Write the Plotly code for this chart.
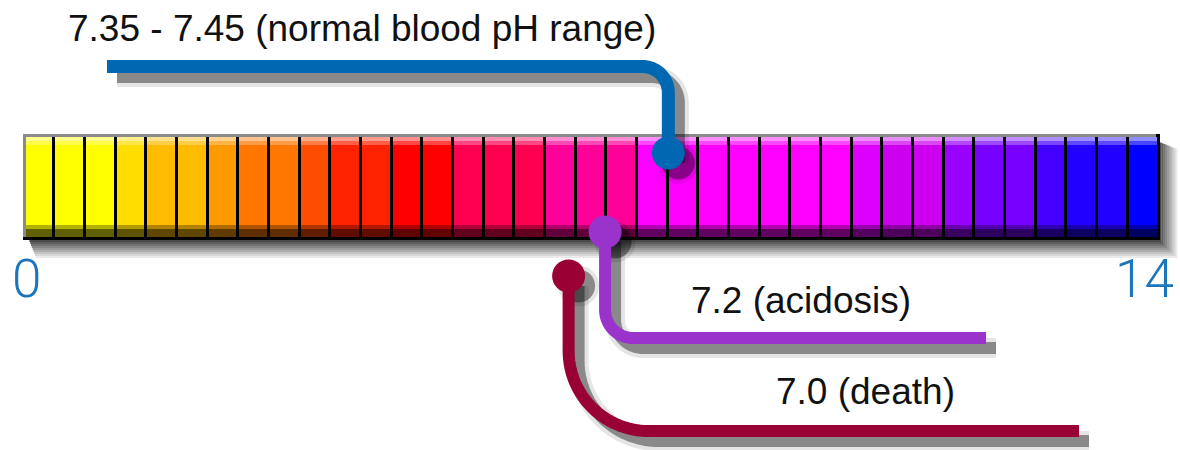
import numpy as np
import plotly.graph_objects as go

# ---------------- data ----------------
PH_MIN, PH_MAX = 0, 14
segment_colors = [
    "#FFFF00", "#FFFF00", "#FFFF00", "#FFDD00", "#FFBB00", "#FFBB00",
    "#FF9900", "#FF7700", "#FF7700", "#FF4D00", "#FF2200", "#FF2200",
    "#FF0000", "#FF0000", "#FF0050", "#FF0050", "#FF0050", "#FF0099",
    "#FF0099", "#FF0099", "#FF00FF", "#FF00FF", "#FF00FF", "#FF00FF",
    "#FF00FF", "#FF00FF", "#FF00FF", "#DD00FF", "#CC00EE", "#CC00EE",
    "#9900FF", "#7700FF", "#7700FF", "#4400FF", "#2200FF", "#2200FF",
    "#0000FF",
]
scale_tick_values = [0, 14]
scale_tick_labels = ["0", "14"]
callout_labels = ["7.35 - 7.45 (normal blood pH range)", "7.2 (acidosis)", "7.0 (death)"]
callout_positions = [7.96, 7.18, 6.73]   # where each pin sits on the drawn scale
callout_colors = ["#0068b3", "#9933cc", "#990033"]

# ---------------- layout helpers ----------------
W, H = 1180, 450
X0, X1 = 23, 1158                      # pixel span of the scale
PX = (X1 - X0) / (PH_MAX - PH_MIN)


def u(px):
    return PH_MIN + (px - X0) / PX


def to_px(v):
    return X0 + (v - PH_MIN) * PX


def hexrgb(c):
    c = c.lstrip("#")
    return tuple(int(c[i:i + 2], 16) for i in (0, 2, 4))


def mix(c, target, t):
    r, g, b = hexrgb(c)
    tr, tg, tb = target
    return "rgb(%d,%d,%d)" % (r + (tr - r) * t, g + (tg - g) * t, b + (tb - b) * t)


def lighten(c, t):
    return mix(c, (255, 255, 255), t)


def darken(c, t):
    return mix(c, (0, 0, 0), t)


def arc(cx, cy, r, a0, a1, n=40):
    t = np.linspace(a0, a1, n)
    return [float(v) for v in cx + r * np.cos(t)], [float(v) for v in cy + r * np.sin(t)]


BAR_TOP, BAR_BOT = 134, 240
SEG_TOP, SEG_BOT = 137, 237

fig = go.Figure()


def bar(x, width, base, height, color):
    fig.add_trace(go.Bar(x=x, y=[height] * len(x), base=[base] * len(x),
                         width=width, marker=dict(color=color, line_width=0),
                         hoverinfo="skip", showlegend=False))


def line_trace(xs, ys, color, width):
    fig.add_trace(go.Scatter(x=xs, y=ys, mode="lines",
                             line=dict(color=color, width=width, simplify=False),
                             hoverinfo="skip", showlegend=False))


def dot_trace(x, y, color, size):
    fig.add_trace(go.Scatter(x=[x], y=[y], mode="markers",
                             marker=dict(size=size, color=color, line_width=0),
                             hoverinfo="skip", showlegend=False))


n = len(segment_colors)
seg_w = (PH_MAX - PH_MIN) / n
centers = [PH_MIN + seg_w * (i + 0.5) for i in range(n)]
gap = 3 / PX
BODY_R = X1 + 1.5

# body (black outline / dividers)
bar([(PH_MIN + PH_MAX) / 2 + 0.75 / PX], [PH_MAX - PH_MIN + 1.5 / PX], BAR_TOP, BAR_BOT - BAR_TOP, "black")
# coloured segments
bar(centers, [seg_w - gap] * n, SEG_TOP, SEG_BOT - SEG_TOP, segment_colors)
# bevel highlights and shading
bar(centers, [seg_w - gap] * n, SEG_TOP, 4, [lighten(c, 0.55) for c in segment_colors])
bar(centers, [seg_w - gap] * n, SEG_TOP + 4, 4, [lighten(c, 0.28) for c in segment_colors])
bar(centers, [seg_w - gap] * n, 225, 4, [darken(c, 0.3) for c in segment_colors])
bar(centers, [seg_w - gap] * n, 229, 8, [darken(c, 0.62) for c in segment_colors])
# grey top and left edges
bar([(PH_MIN + PH_MAX) / 2 - 1.5 / PX], [PH_MAX - PH_MIN - 2 / PX], BAR_TOP, 3, "#8a8a8a")
bar([u(X0 + 1.5)], [3 / PX], BAR_TOP, SEG_BOT - BAR_TOP, "#8a8a8a")

# ---- bar drop shadow: stacked 2px L-shaped strokes fading outwards ----
for d in range(1, 19, 2):
    alpha = 0.75 * (1 - d / 19.0)
    xs = [X0 + 6 + d * 0.4, BODY_R + d, BODY_R + d]
    ys = [BAR_BOT + d, BAR_BOT + d, BAR_TOP + 8 + d * 0.4]
    line_trace([u(x) for x in xs], ys, "rgba(0,0,0,%.3f)" % alpha, 2)

# ---- callouts ----
geom = [
    dict(pin_y=153, line_y=66.5, r=26, end_x=107, lab_x=362, lab_y=28),
    dict(pin_y=232, line_y=338, r=28, end_x=986, lab_x=801, lab_y=300),
    dict(pin_y=276, line_y=431, r=80, end_x=1079, lab_x=865, lab_y=391),
]


def callout_path(i):
    g = geom[i]
    px = to_px(callout_positions[i])
    if i == 0:   # goes up from the pin, then left
        ax, ay = arc(px - g["r"], g["line_y"] + g["r"], g["r"], -np.pi / 2, 0)
        xs = [g["end_x"]] + ax + [px]
        ys = [g["line_y"]] + ay + [g["pin_y"]]
    else:        # goes down from the pin, then right
        ax, ay = arc(px + g["r"], g["line_y"] - g["r"], g["r"], np.pi, np.pi / 2)
        xs = [px] + ax + [g["end_x"]]
        ys = [g["pin_y"]] + ay + [g["line_y"]]
    return xs, ys, px


LW = [13, 12, 12]
DOT = 33
paths = [callout_path(i) for i in range(3)]

# shadows
for i, (xs, ys, px) in enumerate(paths):
    sx = [u(x + 10) for x in xs]
    sy = [y + 10 for y in ys]
    line_trace(sx, sy, "rgba(0,0,0,0.10)", LW[i] + 8)
    line_trace(sx, sy, "rgba(0,0,0,0.40)", LW[i])
    dot_trace(u(px + 10), geom[i]["pin_y"] + 10, "rgba(0,0,0,0.10)", DOT + 8)
    dot_trace(u(px + 10), geom[i]["pin_y"] + 10, "rgba(0,0,0,0.40)", DOT)

# lines and pins
for i, (xs, ys, px) in enumerate(paths):
    line_trace([u(x) for x in xs], ys, callout_colors[i], LW[i])
    dot_trace(callout_positions[i], geom[i]["pin_y"], callout_colors[i], DOT)

# labels
for i, lab in enumerate(callout_labels):
    g = geom[i]
    fig.add_annotation(x=u(g["lab_x"]), y=g["lab_y"], xref="x", yref="y",
                       text=lab, showarrow=False, xanchor="center", yanchor="middle",
                       font=dict(family="Liberation Sans, Arial, sans-serif", size=37, color="#111111"))

# scale end numbers
for v, lab, shift in zip(scale_tick_values, scale_tick_labels, [3, -14]):
    fig.add_annotation(x=v, y=279, xref="x", yref="y", xshift=shift,
                       text=lab, showarrow=False, xanchor="center", yanchor="middle",
                       font=dict(family="Roboto, Liberation Sans, Arial, sans-serif", size=53,
                                 color="#1b75bc", weight=300))

fig.update_layout(
    width=W, height=H, margin=dict(l=0, r=0, t=0, b=0),
    paper_bgcolor="white", plot_bgcolor="white",
    barmode="overlay", bargap=0, showlegend=False,
    xaxis=dict(range=[u(0), u(W)], visible=False, fixedrange=True),
    yaxis=dict(range=[H, 0], visible=False, fixedrange=True),
)

fig.write_html("out.html", config={"displayModeBar": False},
               post_script="document.body.style.margin='0';document.body.style.overflow='hidden';")
